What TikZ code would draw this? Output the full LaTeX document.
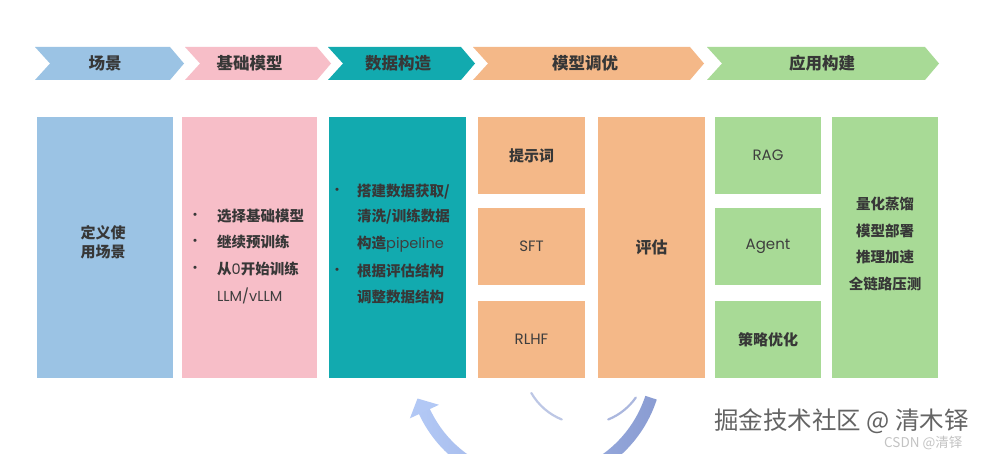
\documentclass[tikz,border=0pt]{standalone}
\usepackage{fontspec}
\setmainfont{Noto Sans CJK SC}
\newfontfamily\lat{Poppins}
\definecolor{cblue}{RGB}{155,195,228}
\definecolor{cpink}{RGB}{247,190,200}
\definecolor{cteal}{RGB}{18,170,175}
\definecolor{corange}{RGB}{244,184,136}
\definecolor{cgreen}{RGB}{168,218,150}
\definecolor{ctext}{RGB}{55,55,55}
\definecolor{clat}{RGB}{62,62,62}
\definecolor{arrL}{RGB}{178,200,245}
\definecolor{arrR}{RGB}{138,156,210}
\definecolor{wmark}{RGB}{100,100,100}
\definecolor{wmark2}{RGB}{195,195,195}
\tikzset{
  hdr/.style={text=ctext, font=\fontsize{16.5}{18}\selectfont\bfseries, inner sep=0pt},
  box/.style={draw=none, inner sep=0pt, text=ctext, font=\fontsize{15}{19}\selectfont\bfseries},
  txt/.style={text=ctext, font=\fontsize{14.5}{17}\selectfont\bfseries, inner sep=0pt, text height=11pt, text depth=2pt},
  bul/.style={text=ctext, font=\fontsize{15}{17}\selectfont, inner sep=0pt},
  latbox/.style={font=\fontsize{15}{17}\selectfont\lat, text=clat}
}
\newcommand\chevpath[3]{\fill[#3] (#1,47) -- (#2,47) -- (#2+14,63.5) -- (#2,80) -- (#1,80) -- (#1+15,63.5) -- cycle;}
\begin{document}
\begin{tikzpicture}[x=1pt,y=-1pt]
\useasboundingbox (0,0) rectangle (992,454);
\fill[white] (0,0) rectangle (992,454);

% chevrons
\chevpath{35}{170}{cblue}
\chevpath{185}{317}{cpink}
\chevpath{328}{461}{cteal}
\chevpath{473}{690}{corange}
\chevpath{707}{925}{cgreen}
\node[hdr] (h1) at (105,63.5) {场景};
\node[hdr] (h2) at (249.5,63.5) {基础模型};
\node[hdr] (h3) at (398,63.5) {数据构造};
\node[hdr] (h4) at (585,63.5) {模型调优};
\node[hdr] (h5) at (822,63.5) {应用构建};

% columns
\node[box, fill=cblue, minimum width=136pt, minimum height=261pt] (b1) at (105,247.5) {};
\node[inner sep=0pt, align=center, text=ctext, font=\fontsize{15}{19}\selectfont\bfseries] (b1t) at (103,242.5) {定义使\\用场景};
\node[box, fill=cpink, minimum width=135pt, minimum height=261pt] (b2) at (249.5,247.5) {};
\node[box, fill=cteal, minimum width=137pt, minimum height=261pt] (b3) at (397.5,247.5) {};

\node[box, fill=corange, minimum width=107pt, minimum height=77pt] (o1) at (531.5,155.5) {提示词};
\node[box, fill=corange, minimum width=107pt, minimum height=77pt, latbox] (o2) at (531.5,246.5) {SFT};
\node[box, fill=corange, minimum width=107pt, minimum height=77pt, latbox] (o3) at (531.5,339.5) {RLHF};
\node[box, fill=corange, minimum width=107pt, minimum height=261pt, font=\fontsize{16}{19}\selectfont\bfseries] (o4) at (651.5,247.5) {评估};

\node[box, fill=cgreen, minimum width=106pt, minimum height=77pt, latbox] (g1) at (768,155.5) {RAG};
\node[box, fill=cgreen, minimum width=106pt, minimum height=77pt, latbox] (g2) at (768,246.5) {Agent};
\node[box, fill=cgreen, minimum width=106pt, minimum height=77pt] (g3) at (768,339.5) {策略优化};
\node[box, fill=cgreen, minimum width=106pt, minimum height=261pt] (g4) at (885,247.5) {};

% pink list
\node[bul] (pb1) at (195,217) {•};
\node[bul] (pb2) at (195,243) {•};
\node[bul] (pb3) at (195,270) {•};
\node[txt, anchor=west] (p1) at (217,217) {选择基础模型};
\node[txt, anchor=west] (p2) at (217,243) {继续预训练};
\node[txt, anchor=west] (p3) at (217,270) {从{\lat\mdseries 0}开始训练};
\node[txt, anchor=west, font=\fontsize{14.5}{17}\selectfont\lat, text=clat] (p4) at (217,297) {LLM/vLLM};

% teal list
\node[bul] (tb1) at (337,192) {•};
\node[bul] (tb2) at (337,272) {•};
\node[txt, anchor=west] (t1) at (357,192) {搭建数据获取/};
\node[txt, anchor=west] (t2) at (357,217) {清洗/训练数据};
\node[txt, anchor=west] (t3) at (357,244) {构造{\lat\mdseries\color{clat}pipeline}};
\node[txt, anchor=west] (t4) at (357,272) {根据评估结构};
\node[txt, anchor=west] (t5) at (357,298) {调整数据结构};

% green list
\node[txt] (q1) at (885,205) {量化蒸馏};
\node[txt] (q2) at (885,232) {模型部署};
\node[txt] (q3) at (885,258) {推理加速};
\node[txt] (q4) at (885,285) {全链路压测};

% cycle arrows
\begin{scope}
\clip (0,0) rectangle (992,454);
\shade[left color=arrL, right color=arrR]
  ([shift={(18:128)}]535,360) arc[start angle=18, end angle=156, radius=128]
  -- ([shift={(156:116)}]535,360) arc[start angle=156, end angle=18, radius=116] -- cycle;
\fill[arrL] ([shift={(155:138)}]535,360) -- (417.5,398.5) -- ([shift={(155:106)}]535,360) -- cycle;
\draw[arrR!70, line width=2.2pt, line cap=round, opacity=0.8] ([shift={(150:62)}]585,362) arc[start angle=150, end angle=112, radius=62];
\draw[arrR!90, line width=2.2pt, line cap=round, opacity=0.8] ([shift={(68:62)}]585,362) arc[start angle=68, end angle=35, radius=62];
\end{scope}

% watermarks
\node[inner sep=0pt, text=wmark, font=\fontsize{24.5}{26}\selectfont, anchor=west] (wm) at (714,421) {掘金技术社区 @ 清木铎};
\node[inner sep=0pt, text=wmark2, font=\fontsize{13.5}{15}\selectfont, anchor=west] (wm2) at (884,443) {CSDN @清铎};
\end{tikzpicture}
\end{document}
